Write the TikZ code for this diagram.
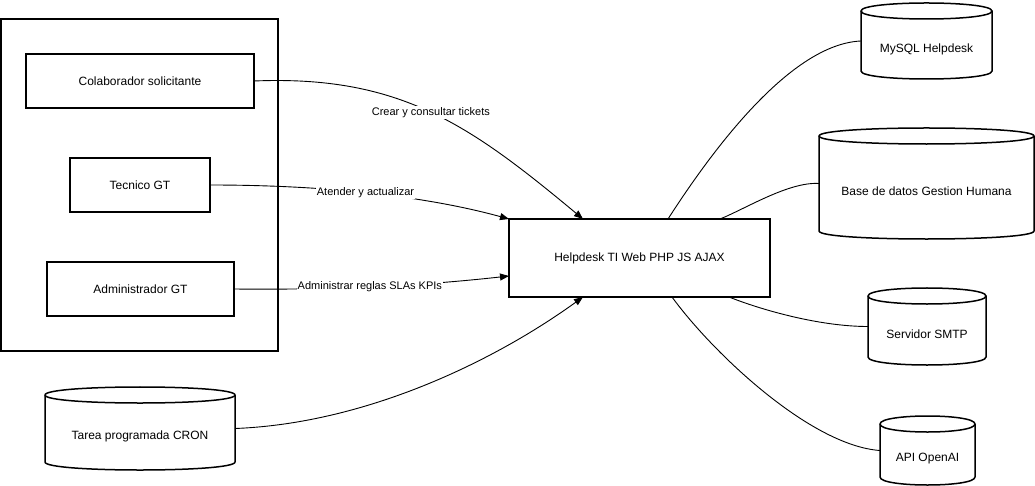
\documentclass[tikz,border=0pt]{standalone}
\usepackage{fontspec}
\setmainfont{Liberation Sans}
\usetikzlibrary{arrows.meta}
\newcommand\dbcyl[6]{%
  \draw[cylst] (#2,{#3+8}) -- (#2,{#5-8}) .. controls (#2,{#5+2.67}) and (#4,{#5+2.67}) .. (#4,{#5-8}) -- (#4,{#3+8}) .. controls (#4,{#3-2.67}) and (#2,{#3-2.67}) .. (#2,{#3+8}) -- cycle;
  \draw[cylst] (#2,{#3+8}) .. controls (#2,{#3+18.67}) and (#4,{#3+18.67}) .. (#4,{#3+8});
  \node[anchorbox, minimum width={#4-#2}, minimum height={#5-#3}] (#1) at ({(#2+#4)/2},{(#3+#5)/2}) {};
  \node[cyltxt] (#1-t) at ({(#2+#4)/2},{(#3+#5)/2+8}) {#6};
}
\begin{document}
\begin{tikzpicture}[x=1pt,y=-1pt,
  boxst/.style={draw=black, line width=1.5pt, inner sep=0pt, outer sep=0pt, font=\fontsize{12pt}{14pt}\selectfont},
  cylst/.style={draw=black, line width=1.5pt},
  cyltxt/.style={font=\fontsize{12pt}{14pt}\selectfont, inner sep=0pt},
  anchorbox/.style={inner sep=0pt, outer sep=0pt},
  conn/.style={line width=0.9pt},
  arr/.style={conn, -{Triangle[length=9pt,width=7pt]}},
  lbl/.style={fill=white, inner sep=1pt, font=\fontsize{11pt}{13pt}\selectfont}
]
\useasboundingbox (0,0) rectangle (1035,486);

% group container and actors
\node[boxst, minimum width=277, minimum height=332] (grp) at (139.5,185) {};
\node[boxst, minimum width=228, minimum height=54] (colab) at (140,81) {Colaborador solicitante};
\node[boxst, minimum width=140, minimum height=54] (tec) at (140,185) {Tecnico GT};
\node[boxst, minimum width=187, minimum height=54] (adm) at (140.5,289) {Administrador GT};

% central system
\node[boxst, minimum width=261, minimum height=78] (hd) at (639.5,258) {Helpdesk TI Web PHP JS AJAX};

% data stores / services
\dbcyl{mysql}{861}{3}{992}{79}{MySQL Helpdesk}
\dbcyl{bdgh}{819}{128}{1034}{239}{Base de datos Gestion Humana}
\dbcyl{smtp}{868}{288}{986}{365}{Servidor SMTP}
\dbcyl{openai}{880}{416}{975}{485}{API OpenAI}
\dbcyl{cron}{45}{387}{235}{470}{Tarea programada CRON}

% connectors into the system
\draw[arr] (colab.east) .. controls +(146,-6) and +(-113,-94) .. ([xshift=74pt]hd.north west) node[lbl,pos=0.5] {Crear y consultar tickets};
\draw[arr] (tec.east) .. controls +(120,0) and +(-80,-22) .. (hd.north west) node[lbl,pos=0.47] {Atender y actualizar};
\draw[arr] (adm.east) .. controls +(100,1) and +(-90,10) .. ([yshift=-57pt]hd.north west) node[lbl,pos=0.48] {Administrar reglas SLAs KPIs};
\draw[arr] (cron.east) .. controls +(130,-5) and +(-90,65) .. ([xshift=74pt]hd.south west);

% connectors out of the system
\draw[conn] ([xshift=159pt]hd.north west) .. controls +(45,-70) and +(-70,3) .. (mysql.west);
\draw[conn] ([xshift=211pt]hd.north west) .. controls +(25,-10) and +(-30,-2) .. (bdgh.west);
\draw[conn] ([xshift=220pt]hd.south west) .. controls +(30,12) and +(-50,0) .. (smtp.west);
\draw[conn] ([xshift=163pt]hd.south west) .. controls +(40,55) and +(-70,-5) .. (openai.west);
\end{tikzpicture}
\end{document}
